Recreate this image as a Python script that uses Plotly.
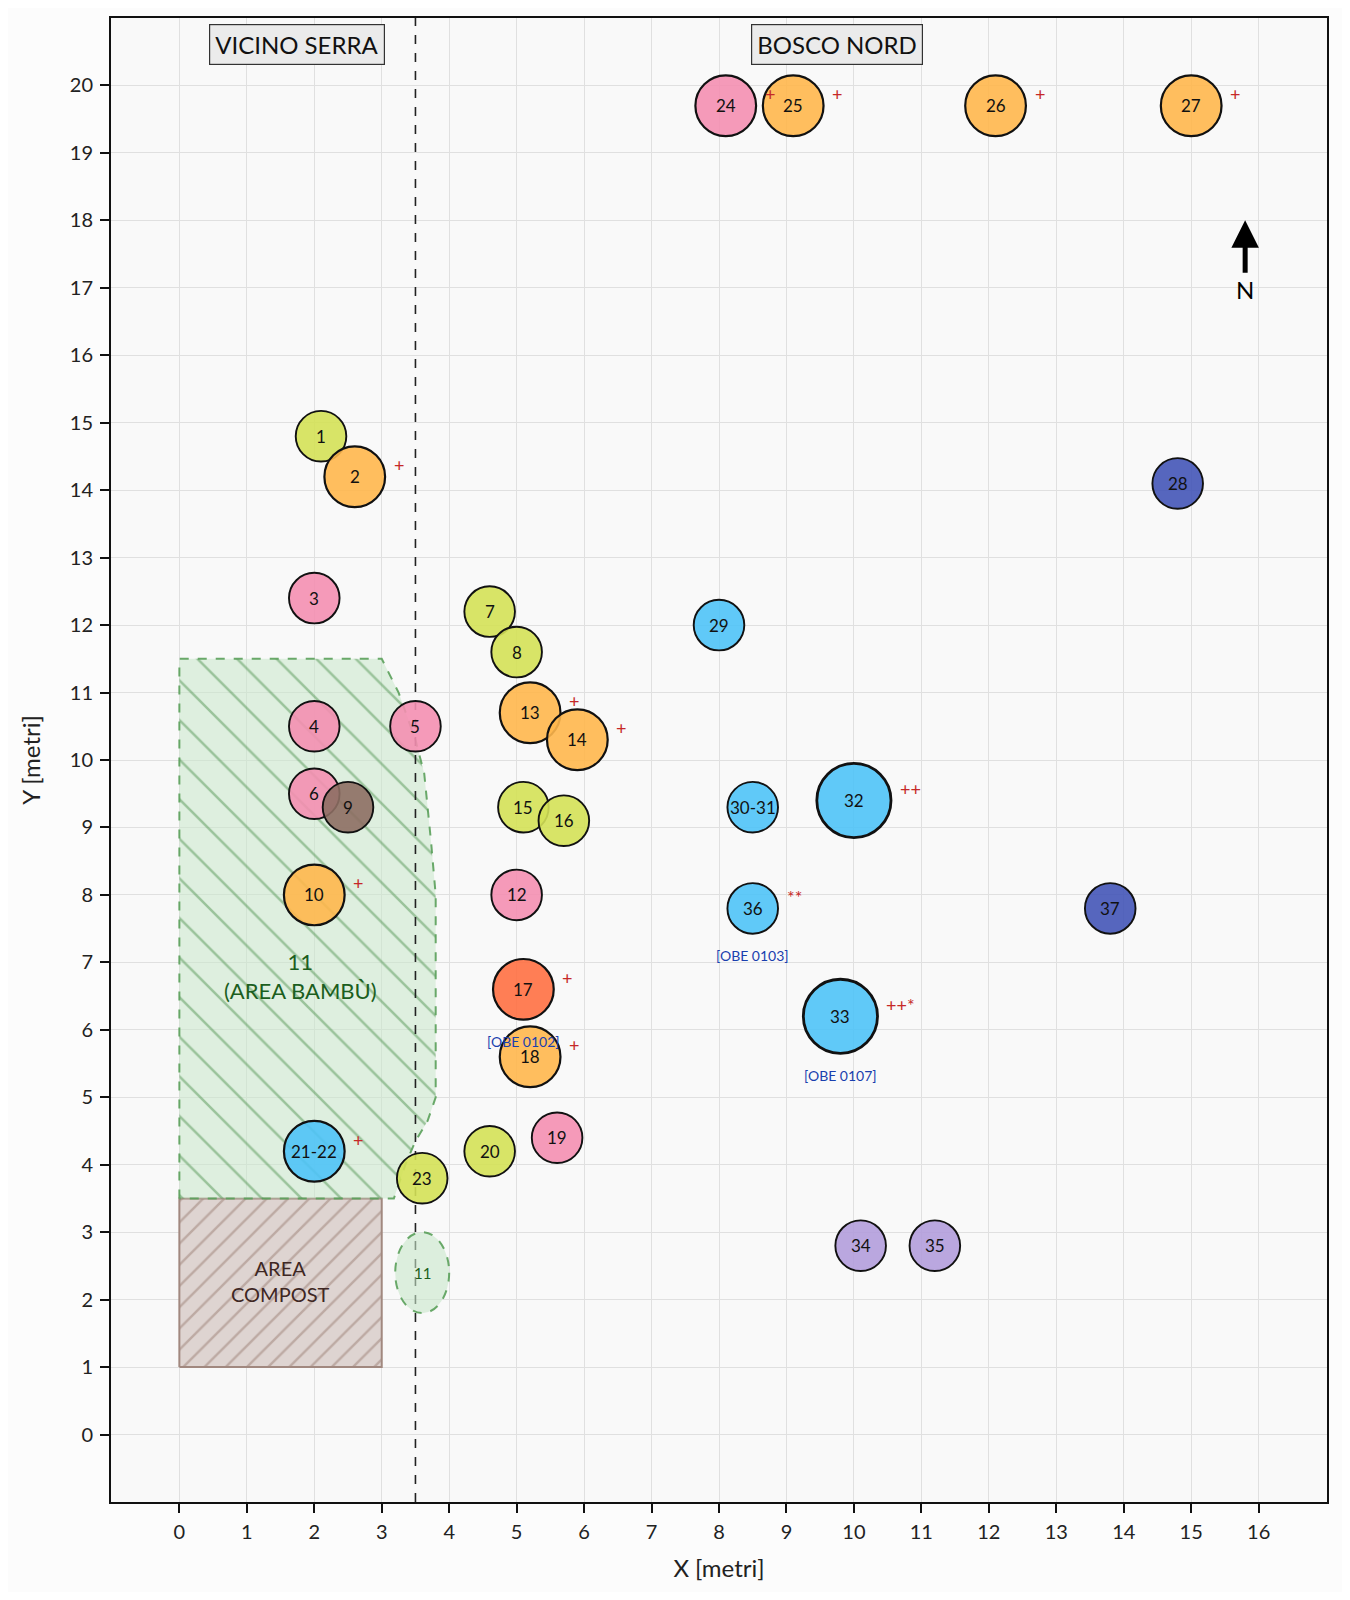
import plotly.graph_objects as go

# alberi rilevati: etichetta, posizione [m], raggio chioma [m], gruppo colore
etichette = ["1", "2", "3", "4", "5", "6", "7", "8", "9", "10", "12", "13", "14", "15", "16",
             "17", "18", "19", "20", "21-22", "23", "24", "25", "26", "27", "28", "29",
             "30-31", "32", "33", "34", "35", "36", "37"]
x_alberi = [2.1, 2.6, 2.0, 2.0, 3.5, 2.0, 4.6, 5.0, 2.5, 2.0, 5.0, 5.2, 5.9, 5.1, 5.7,
            5.1, 5.2, 5.6, 4.6, 2.0, 3.6, 8.1, 9.1, 12.1, 15.0, 14.8, 8.0,
            8.5, 10.0, 9.8, 10.1, 11.2, 8.5, 13.8]
y_alberi = [14.8, 14.2, 12.4, 10.5, 10.5, 9.5, 12.2, 11.6, 9.3, 8.0, 8.0, 10.7, 10.3, 9.3, 9.1,
            6.6, 5.6, 4.4, 4.2, 4.2, 3.8, 19.7, 19.7, 19.7, 19.7, 14.1, 12.0,
            9.3, 9.4, 6.2, 2.8, 2.8, 7.8, 7.8]
raggi = [0.375, 0.45, 0.375, 0.375, 0.375, 0.375, 0.375, 0.375, 0.375, 0.45, 0.375, 0.45, 0.45, 0.375, 0.375,
         0.45, 0.45, 0.375, 0.375, 0.45, 0.375, 0.45, 0.45, 0.45, 0.45, 0.375, 0.375,
         0.375, 0.55, 0.55, 0.375, 0.375, 0.375, 0.375]
gruppi = ["verde", "arancio", "rosa", "rosa", "rosa", "rosa", "verde", "verde", "marrone", "arancio",
          "rosa", "arancio", "arancio", "verde", "verde", "rosso", "arancio", "rosa", "verde",
          "azzurro", "verde", "rosa", "arancio", "arancio", "arancio", "indaco", "azzurro",
          "azzurro", "azzurro", "azzurro", "lavanda", "lavanda", "azzurro", "indaco"]

colori_gruppi = {
    "rosa": "rgba(244,143,177,0.9)",
    "arancio": "rgba(255,183,77,0.9)",
    "verde": "rgba(212,225,87,0.9)",
    "azzurro": "rgba(79,195,247,0.9)",
    "marrone": "rgba(141,110,99,0.9)",
    "rosso": "rgba(255,112,67,0.9)",
    "indaco": "rgba(63,81,181,0.88)",
    "lavanda": "rgba(179,157,219,0.9)",
}

# note a fianco delle chiome
note_etichette = ["2", "10", "13", "14", "17", "18", "21-22", "24", "25", "26", "27", "32", "33", "36"]
note_testi = ["+", "+", "+", "+", "+", "+", "+", "+", "+", "+", "+", "++", "++*", "**"]

# codici OBE sotto le chiome
codici_etichette = ["17", "36", "33"]
codici_testi = ["[OBE 0102]", "[OBE 0103]", "[OBE 0107]"]

# area bambù (11)
bambu_x = [0.0, 0.0, 3.0, 3.25, 3.5, 3.63, 3.73, 3.8, 3.8, 3.68, 3.5, 3.35, 3.18]
bambu_y = [3.5, 11.5, 11.5, 11.0, 10.3, 9.8, 8.8, 8.0, 5.0, 4.65, 4.35, 4.0, 3.5]
# area compost
compost_x = [0.0, 3.0, 3.0, 0.0]
compost_y = [1.0, 1.0, 3.5, 3.5]
# piccola macchia di bambù (11) vicino al confine
macchia_x = [3.2, 4.0]
macchia_y = [1.8, 3.0]

confine_x = 3.5
zone_testi = ["VICINO SERRA", "BOSCO NORD"]
zone_x = [1.75, 9.75]
zone_y = [20.6, 20.6]

FONT = "Lato"

fig = go.Figure()

fig.add_trace(go.Scatter(
    x=compost_x + compost_x[:1], y=compost_y + compost_y[:1],
    mode="lines", fill="toself",
    line=dict(color="#a1887f", width=2),
    fillcolor="rgba(215,204,200,0.75)",
    fillpattern=dict(shape="/", fgcolor="#9c8076", bgcolor="rgba(222,212,209,1)",
                     size=15, solidity=0.16),
    hoverinfo="skip", showlegend=False,
))

fig.add_trace(go.Scatter(
    x=bambu_x + bambu_x[:1], y=bambu_y + bambu_y[:1],
    mode="lines", fill="toself",
    line=dict(color="rgba(90,160,90,0.9)", width=2, dash="dash"),
    fillcolor="rgba(200,230,201,0.6)",
    fillpattern=dict(shape="\\", fgcolor="rgba(70,140,70,0.9)", bgcolor="rgba(200,230,201,0.55)",
                     size=28, solidity=0.09),
    hoverinfo="skip", showlegend=False,
))

shapes = []
# confine tra le zone
shapes.append(dict(type="line", xref="x", yref="y", x0=confine_x, x1=confine_x, y0=-1, y1=21,
                   line=dict(color="#222", width=1.6, dash="dash"), layer="above"))
shapes.append(dict(type="circle", xref="x", yref="y",
                   x0=macchia_x[0], x1=macchia_x[1], y0=macchia_y[0], y1=macchia_y[1],
                   fillcolor="rgba(200,230,201,0.6)",
                   line=dict(color="rgba(90,160,90,0.9)", width=2, dash="dash"), layer="above"))

for lab, x, y, r, g in zip(etichette, x_alberi, y_alberi, raggi, gruppi):
    lw = 2.8 if r > 0.5 else (2.2 if r > 0.4 else 1.9)
    shapes.append(dict(type="circle", xref="x", yref="y",
                       x0=x - r, x1=x + r, y0=y - r, y1=y + r,
                       fillcolor=colori_gruppi[g], line=dict(color="#111", width=lw),
                       layer="above"))

annotations = []
for lab, x, y in zip(etichette, x_alberi, y_alberi):
    annotations.append(dict(x=x, y=y, xref="x", yref="y", text=lab, showarrow=False,
                            font=dict(family=FONT, size=17, color="#111")))

for lab, testo in zip(note_etichette, note_testi):
    i = etichette.index(lab)
    annotations.append(dict(x=x_alberi[i] + raggi[i] + 0.1, y=y_alberi[i] + 0.17,
                            xref="x", yref="y", text=testo, showarrow=False, xanchor="left",
                            font=dict(family=FONT, size=18, color="#c62828")))

for lab, testo in zip(codici_etichette, codici_testi):
    i = etichette.index(lab)
    annotations.append(dict(x=x_alberi[i], y=y_alberi[i] - raggi[i] - 0.33,
                            xref="x", yref="y", text=testo, showarrow=False,
                            font=dict(family=FONT, size=14, color="#1a3fae")))

for testo, x, y in zip(zone_testi, zone_x, zone_y):
    annotations.append(dict(x=x, y=y, xref="x", yref="y", text=testo, showarrow=False,
                            font=dict(family=FONT, size=24, color="#111"),
                            bgcolor="#ebebeb", bordercolor="#333", borderwidth=1.2, borderpad=5))

annotations.append(dict(x=1.8, y=6.8, xref="x", yref="y", text="11<br>(AREA BAMBÙ)",
                        showarrow=False, font=dict(family=FONT, size=22, color="#1b5e20")))
annotations.append(dict(x=1.5, y=2.27, xref="x", yref="y", text="AREA<br>COMPOST",
                        showarrow=False, font=dict(family=FONT, size=20, color="#3e2723")))
annotations.append(dict(x=sum(macchia_x) / 2, y=sum(macchia_y) / 2, xref="x", yref="y", text="11",
                        showarrow=False, font=dict(family=FONT, size=15, color="#1b5e20")))

# freccia del nord
annotations.append(dict(x=15.8, y=18.0, ax=15.8, ay=17.2, xref="x", yref="y", axref="x", ayref="y",
                        text="", showarrow=True, arrowhead=2, arrowsize=1.1, arrowwidth=5,
                        arrowcolor="#000"))
annotations.append(dict(x=15.8, y=16.97, xref="x", yref="y", text="N", showarrow=False,
                        font=dict(family=FONT, size=24, color="#000")))

fig.update_layout(
    width=1334, height=1584,
    margin=dict(l=103, r=15, t=8, b=90),
    paper_bgcolor="#fcfcfc",
    plot_bgcolor="#f9f9f9",
    font=dict(family=FONT, color="#222"),
    shapes=shapes,
    annotations=annotations,
    showlegend=False,
)

fig.update_xaxes(
    range=[-1, 17], tickvals=list(range(0, 17)),
    showgrid=True, gridcolor="#e0e0e0", gridwidth=1, zeroline=False,
    showline=True, linecolor="#111", linewidth=2, mirror=True,
    ticks="outside", ticklen=9, tickwidth=1.5, tickcolor="#111",
    ticklabelstandoff=2,
    tickfont=dict(family=FONT, size=20, color="#222"),
    title=dict(text="X [metri]", font=dict(family=FONT, size=24, color="#222"), standoff=18),
)
fig.update_yaxes(
    range=[-1, 21], tickvals=list(range(0, 21)),
    scaleanchor="x", scaleratio=1,
    showgrid=True, gridcolor="#e0e0e0", gridwidth=1, zeroline=False,
    showline=True, linecolor="#111", linewidth=2, mirror=True,
    ticks="outside", ticklen=9, tickwidth=1.5, tickcolor="#111",
    ticklabelstandoff=3,
    tickfont=dict(family=FONT, size=20, color="#222"),
    title=dict(text="Y [metri]", font=dict(family=FONT, size=24, color="#222"), standoff=22),
)

fig.write_html("out.html")
